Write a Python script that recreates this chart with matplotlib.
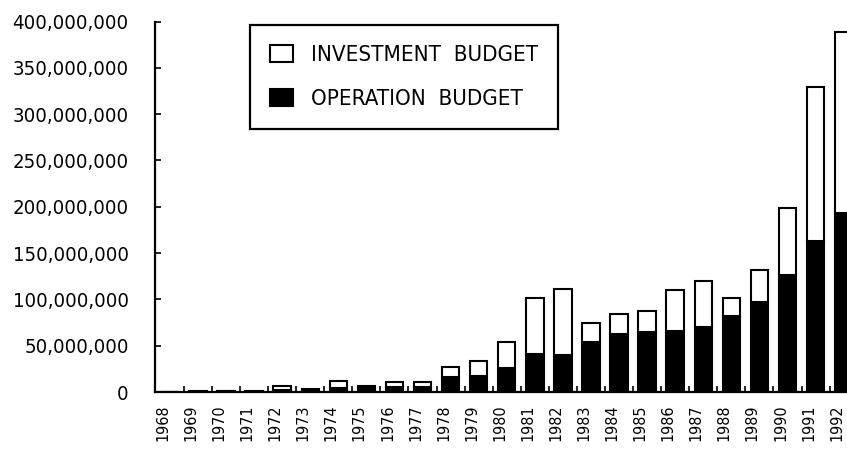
import matplotlib
matplotlib.use("Agg")
import matplotlib.pyplot as plt
import matplotlib.ticker as mticker
import matplotlib.transforms as mtransforms
import numpy as np

# budget per year (units: currency)
years = list(range(1968, 1993))
operation = [0.3, 0.5, 0.8, 0.5, 2, 2, 4, 4, 5.5, 5.5, 16, 17, 26, 41, 40,
             54, 63, 65, 66, 70, 82, 97, 126, 163, 193]
investment = [0.2, 0.5, 0.2, 0.3, 5, 1, 8, 2, 5.5, 5.5, 11, 17, 28, 60, 71,
              20, 21, 23, 44, 50, 20, 35, 73, 166, 196]
operation = np.array(operation) * 1e6
investment = np.array(investment) * 1e6
y_ticks = np.arange(0, 400e6 + 1, 50e6)

W, H = 847, 461
fig = plt.figure(figsize=(W / 100, H / 100), dpi=100)
ax = fig.add_axes([155 / W, 69 / H, (W - 155) / W, (392 - 21.6) / H])

x = np.arange(len(years))
bw = 0.62
b_op = ax.bar(x, operation, width=bw, color="black", edgecolor="black",
              linewidth=1.5, label="OPERATION  BUDGET")
b_inv = ax.bar(x, investment, width=bw, bottom=operation, color="white",
               edgecolor="black", linewidth=1.5, label="INVESTMENT  BUDGET")

ax.set_xlim(-0.53, 24.12)
ax.set_ylim(0, 400e6)

for s in ["top", "right"]:
    ax.spines[s].set_visible(False)
for s in ["left", "bottom"]:
    ax.spines[s].set_linewidth(1.6)

ax.set_yticks(y_ticks)
ax.yaxis.set_major_formatter(mticker.StrMethodFormatter("{x:,.0f}"))
ax.tick_params(axis="y", direction="in", length=4, width=1.2, pad=19,
               labelsize=14.6)
for lbl in ax.get_yticklabels():
    lbl.set_fontstretch("condensed")

ax.set_xticks(x)
ax.set_xticklabels([str(y) for y in years], rotation=90)
ax.set_xticks(x[:-1] + 0.5, minor=True)
ax.tick_params(axis="x", which="major", length=0, pad=9, labelsize=11.5)
ax.tick_params(axis="x", which="minor", direction="in", length=4, width=1.2)

# rotated year labels sit a little left of the bar centres
shift = mtransforms.ScaledTranslation(-7 / 100, 0, fig.dpi_scale_trans)
for lbl in ax.get_xticklabels():
    lbl.set_transform(lbl.get_transform() + shift)
    lbl.set_fontstretch("condensed")

leg = ax.legend(handles=[b_inv, b_op], loc="upper left",
                bbox_to_anchor=(250 / W, 1 - 25 / H),
                bbox_transform=fig.transFigure, borderaxespad=0,
                prop={"size": 16, "stretch": "condensed"},
                frameon=True, fancybox=False, framealpha=1,
                edgecolor="black", borderpad=0.9, labelspacing=1.1,
                handlelength=1.04, handleheight=0.77, handletextpad=0.81)
leg.get_frame().set_linewidth(1.6)

fig.savefig("out.png", dpi=100, facecolor="white")
